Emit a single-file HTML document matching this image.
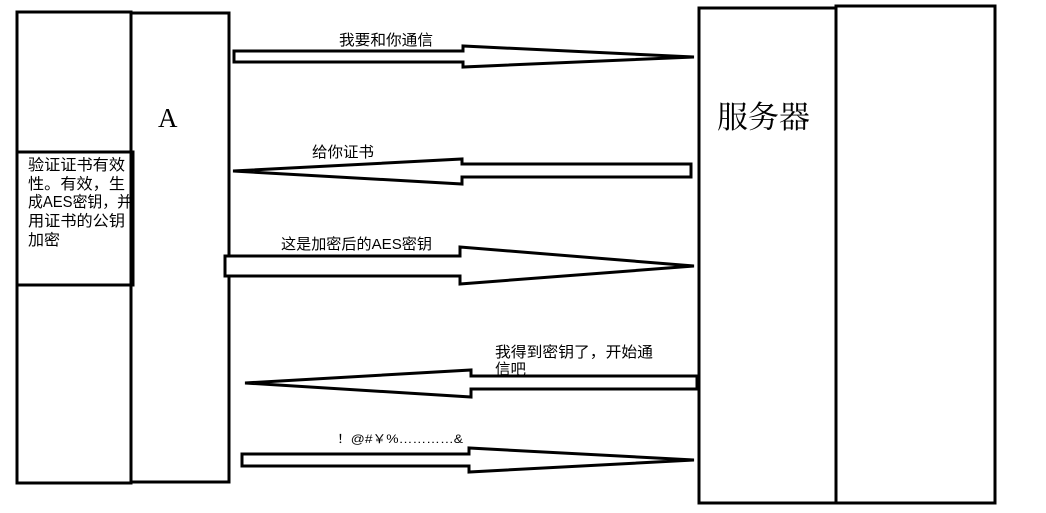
<!DOCTYPE html>
<html><head><meta charset="utf-8"><style>
html,body{margin:0;padding:0;background:#fff;}
svg{display:block;}
text{font-family:"Liberation Sans","WenQuanYi Zen Hei","Noto Sans CJK SC",sans-serif;fill:#000;}
</style></head><body>
<svg width="1046" height="513" viewBox="0 0 1046 513" xmlns="http://www.w3.org/2000/svg">
<g fill="none" stroke="#000" stroke-width="3">
<rect x="17" y="12" width="114" height="471"/>
<rect x="131" y="13" width="98" height="469"/>
<rect x="17" y="152" width="116" height="133"/>
<rect x="699" y="8" width="137" height="495"/>
<rect x="836" y="6" width="159" height="497"/>
</g>
<g fill="#fff" stroke="#000" stroke-width="3" stroke-linejoin="miter">
<polygon points="234,51 463,51 463,46 694,57 463,67 463,62 234,62"/>
<polygon points="691,164 462,164 462,159 233,171 462,184 462,177 691,177"/>
<polygon points="225,256 460,256 460,247 694,266 460,284 460,276 225,276"/>
<polygon points="697,376 471,376 471,370 245,383 471,397 471,389 697,389"/>
<polygon points="242,454 469,454 469,448 694,460 469,472 469,466 242,466"/>
</g>
<text x="158" y="127" style="font-family:'Liberation Serif',serif;font-size:27px">A</text>
<text x="717" y="128" style="font-family:'Liberation Serif','Noto Serif CJK SC',serif;font-size:31px">服务器</text>
<g font-size="15.5">
<text x="28" y="170" textLength="97" lengthAdjust="spacingAndGlyphs">验证证书有效</text>
<text x="28" y="189" textLength="97" lengthAdjust="spacingAndGlyphs">性。有效，生</text>
<text x="28" y="207" textLength="104" lengthAdjust="spacingAndGlyphs">成AES密钥，并</text>
<text x="28" y="226" textLength="97" lengthAdjust="spacingAndGlyphs">用证书的公钥</text>
<text x="28" y="245" textLength="32" lengthAdjust="spacingAndGlyphs">加密</text>
</g>
<g font-size="15">
<text x="339" y="45" textLength="94" lengthAdjust="spacingAndGlyphs">我要和你通信</text>
<text x="312" y="157" textLength="62" lengthAdjust="spacingAndGlyphs">给你证书</text>
<text x="281" y="249" textLength="151" lengthAdjust="spacingAndGlyphs">这是加密后的AES密钥</text>
<text x="495" y="357" textLength="158" lengthAdjust="spacingAndGlyphs">我得到密钥了，开始通</text>
<text x="495" y="374" textLength="31" lengthAdjust="spacingAndGlyphs">信吧</text>
<text x="337" y="443" font-size="12" textLength="126" lengthAdjust="spacingAndGlyphs">！@#￥%…………&amp;</text>
</g>
</svg>
</body></html>
